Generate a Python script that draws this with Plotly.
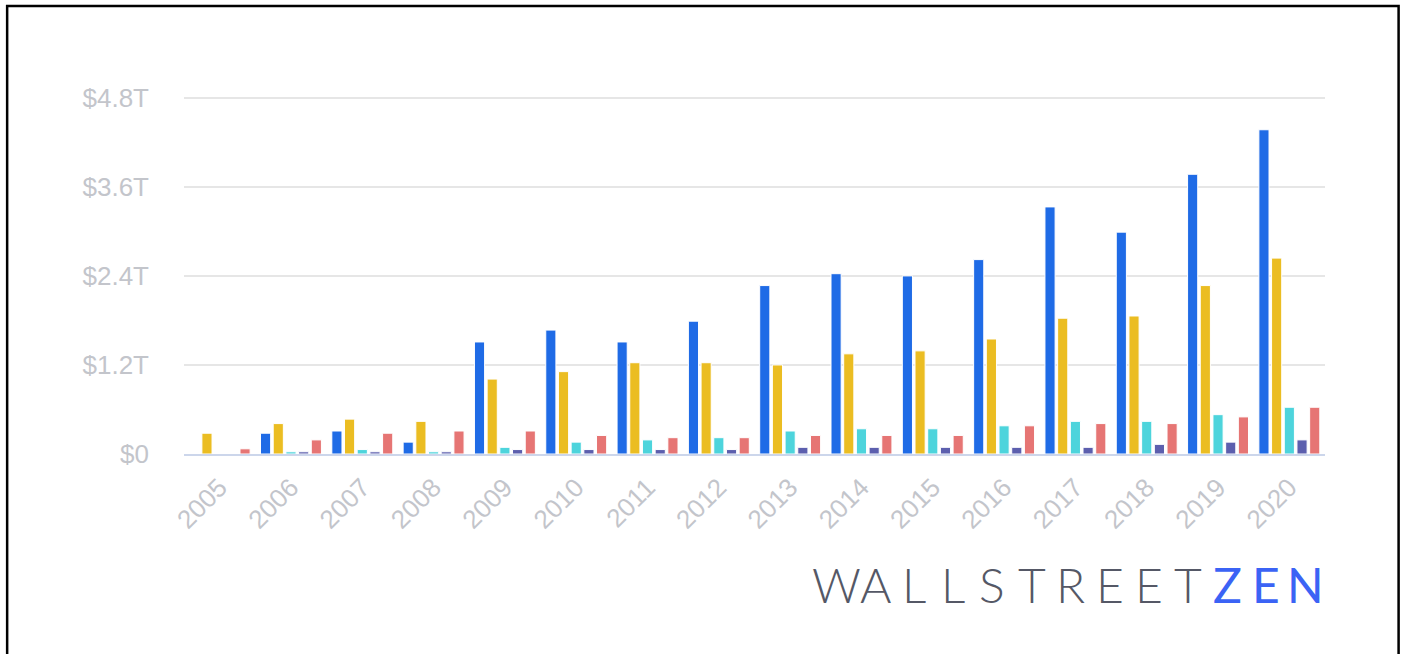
import plotly.graph_objects as go

years = [str(y) for y in range(2005, 2021)]

# values in trillions of dollars
blue_vals = [0.00, 0.28, 0.31, 0.16, 1.51, 1.67, 1.51, 1.79, 2.27, 2.43, 2.40, 2.62, 3.33, 2.99, 3.77, 4.37]
yellow_vals = [0.28, 0.41, 0.47, 0.44, 1.01, 1.11, 1.23, 1.23, 1.20, 1.35, 1.39, 1.55, 1.83, 1.86, 2.27, 2.64]
cyan_vals = [0.00, 0.03, 0.06, 0.03, 0.09, 0.16, 0.19, 0.22, 0.31, 0.34, 0.34, 0.38, 0.44, 0.44, 0.53, 0.63]
purple_vals = [0.00, 0.03, 0.03, 0.03, 0.06, 0.06, 0.06, 0.06, 0.09, 0.09, 0.09, 0.09, 0.09, 0.13, 0.16, 0.19]
red_vals = [0.07, 0.19, 0.28, 0.31, 0.31, 0.25, 0.22, 0.22, 0.25, 0.25, 0.25, 0.38, 0.41, 0.41, 0.50, 0.63]

tick_vals = [0, 1.2, 2.4, 3.6, 4.8]
tick_text = ['$0', '$1.2T', '$2.4T', '$3.6T', '$4.8T']

series = [
    (blue_vals, '#1f6be6'),
    (yellow_vals, '#ebbd22'),
    (cyan_vals, '#4dd4dc'),
    (purple_vals, '#5c5fae'),
    (red_vals, '#e67574'),
]

fig = go.Figure()
for vals, color in series:
    fig.add_trace(go.Bar(x=years, y=vals, marker_color=color,
                         marker_line=dict(color='white', width=1),
                         hoverinfo='x+y'))

y_font = dict(family='Liberation Sans, Arial, sans-serif', size=26, color='#c3c5cb')
x_font = dict(family='Liberation Sans, Arial, sans-serif', size=26, color='#c3c5cb')

fig.update_layout(
    width=1407, height=654,
    margin=dict(l=184, r=82, t=83, b=200),
    paper_bgcolor='white', plot_bgcolor='white',
    showlegend=False,
    barmode='group', bargap=0.11, bargroupgap=0.2,
    xaxis=dict(tickangle=-45, tickfont=x_font, showgrid=False,
               showline=True, linecolor='#ccd6eb', linewidth=2,
               ticks='', ticklabelstandoff=6),
    yaxis=dict(range=[0, 5.0], tickvals=tick_vals, ticktext=tick_text,
               tickfont=y_font, showgrid=True, gridcolor='#e6e6e6',
               gridwidth=2, zeroline=False, ticklabelstandoff=34),
)

# outer frame
fig.add_shape(type='rect', xref='paper', yref='paper',
              x0=-0.155, x1=1.0645, y0=-0.56, y1=1.2075,
              line=dict(color='black', width=2.5), fillcolor='rgba(0,0,0,0)')

# wordmark
logo = 'WALLSTREETZEN'
for i, ch in enumerate(logo):
    is_zen = i >= 10
    fig.add_annotation(
        x=(836 + i * 39.1 - 184) / 1141, y=(454 - 584) / 371,
        xref='paper', yref='paper', text=ch, showarrow=False,
        xanchor='center', yanchor='middle',
        font=dict(family='Lato, Inter, sans-serif', size=48,
                  color='#3b63f5' if is_zen else '#555866',
                  weight=400 if is_zen else 300),
    )

fig.write_html('out.html', config={'displayModeBar': False},
               post_script="document.body.style.margin='0';")
